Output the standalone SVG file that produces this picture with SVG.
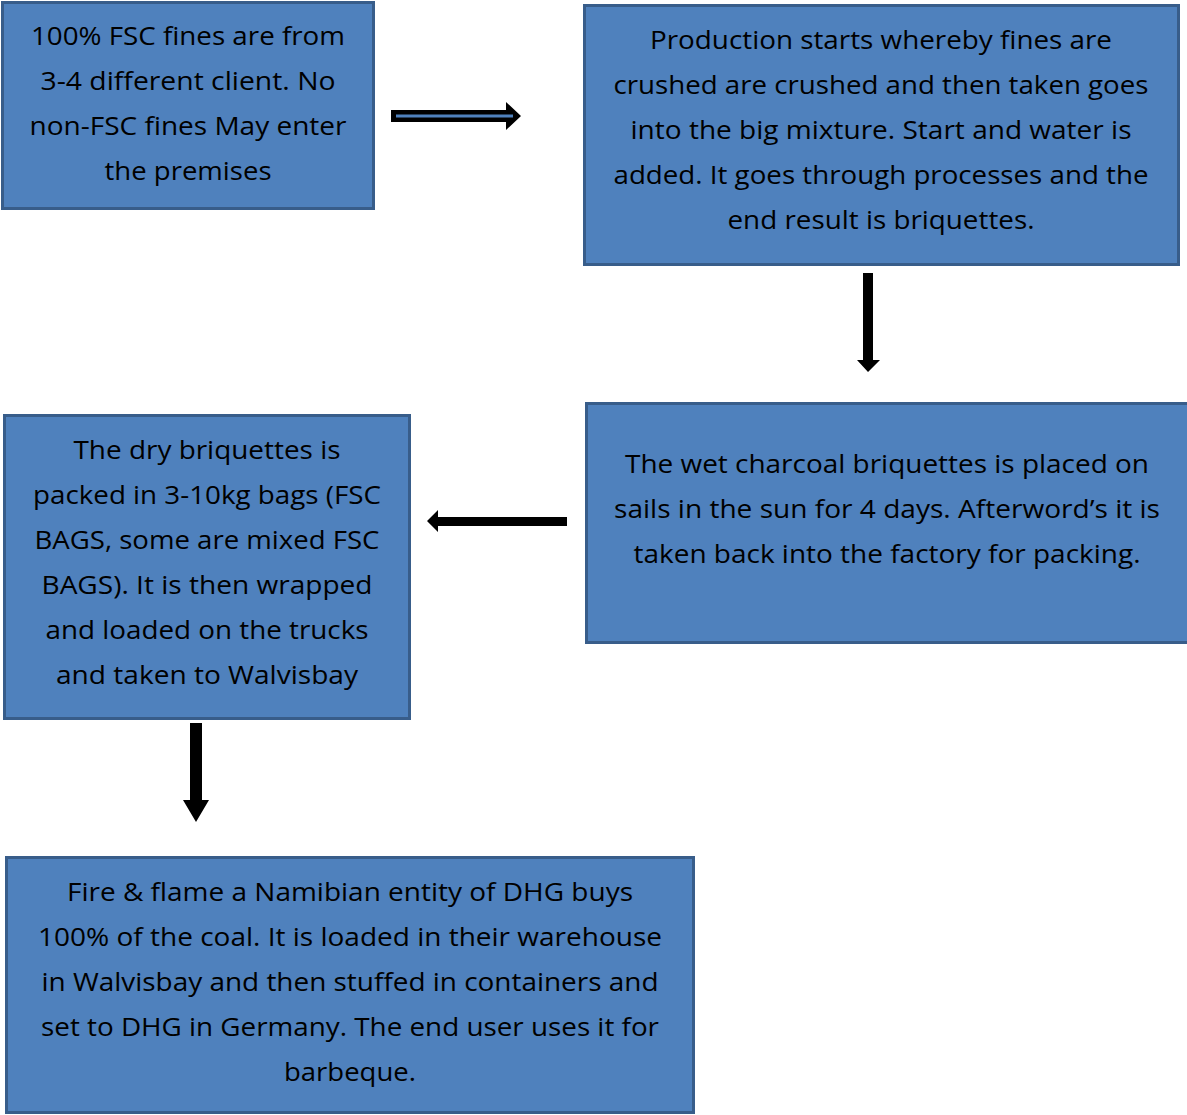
<svg xmlns="http://www.w3.org/2000/svg" width="1187" height="1115" viewBox="0 0 1187 1115">
<style>
.box{fill:#4f81bd;stroke:#385d8a;stroke-width:3}
.t{font-family:"Open Sans","Liberation Sans",sans-serif;font-size:26px;fill:#000;text-anchor:middle}
.arr{fill:#000}
</style>
<rect width="1187" height="1115" fill="#fff"/>
<g id="n1">
<rect class="box" x="2.5" y="2.5" width="371" height="206"/>
<text class="t" x="188" y="45" textLength="314" lengthAdjust="spacingAndGlyphs">100% FSC fines are from</text>
<text class="t" x="188" y="90" textLength="295" lengthAdjust="spacingAndGlyphs">3-4 different client. No</text>
<text class="t" x="188" y="135" textLength="317" lengthAdjust="spacingAndGlyphs">non-FSC fines May enter</text>
<text class="t" x="188" y="180" textLength="167" lengthAdjust="spacingAndGlyphs">the premises</text>
</g>
<g id="n2">
<rect class="box" x="584.5" y="5.5" width="594" height="259"/>
<text class="t" x="881" y="49" textLength="462" lengthAdjust="spacingAndGlyphs">Production starts whereby fines are</text>
<text class="t" x="881" y="94" textLength="535" lengthAdjust="spacingAndGlyphs">crushed are crushed and then taken goes</text>
<text class="t" x="881" y="139" textLength="501" lengthAdjust="spacingAndGlyphs">into the big mixture. Start and water is</text>
<text class="t" x="881" y="184" textLength="535" lengthAdjust="spacingAndGlyphs">added. It goes through processes and the</text>
<text class="t" x="881" y="229" textLength="307" lengthAdjust="spacingAndGlyphs">end result is briquettes.</text>
</g>
<g id="n3">
<rect class="box" x="586.5" y="403.5" width="603" height="239"/>
<text class="t" x="887" y="473" textLength="524" lengthAdjust="spacingAndGlyphs">The wet charcoal briquettes is placed on</text>
<text class="t" x="887" y="518" textLength="546" lengthAdjust="spacingAndGlyphs">sails in the sun for 4 days. Afterword’s it is</text>
<text class="t" x="887" y="563" textLength="507" lengthAdjust="spacingAndGlyphs">taken back into the factory for packing.</text>
</g>
<g id="n4">
<rect class="box" x="4.5" y="415.5" width="405" height="303"/>
<text class="t" x="207" y="459" textLength="267" lengthAdjust="spacingAndGlyphs">The dry briquettes is</text>
<text class="t" x="207" y="504" textLength="348" lengthAdjust="spacingAndGlyphs">packed in 3-10kg bags (FSC</text>
<text class="t" x="207" y="549" textLength="345" lengthAdjust="spacingAndGlyphs">BAGS, some are mixed FSC</text>
<text class="t" x="207" y="594" textLength="331" lengthAdjust="spacingAndGlyphs">BAGS). It is then wrapped</text>
<text class="t" x="207" y="639" textLength="323" lengthAdjust="spacingAndGlyphs">and loaded on the trucks</text>
<text class="t" x="207" y="684" textLength="302" lengthAdjust="spacingAndGlyphs">and taken to Walvisbay</text>
</g>
<g id="n5">
<rect class="box" x="6.5" y="857.5" width="687" height="255"/>
<text class="t" x="350" y="901" textLength="566" lengthAdjust="spacingAndGlyphs">Fire &amp; flame a Namibian entity of DHG buys</text>
<text class="t" x="350" y="946" textLength="624" lengthAdjust="spacingAndGlyphs">100% of the coal. It is loaded in their warehouse</text>
<text class="t" x="350" y="991" textLength="617" lengthAdjust="spacingAndGlyphs">in Walvisbay and then stuffed in containers and</text>
<text class="t" x="350" y="1036" textLength="618" lengthAdjust="spacingAndGlyphs">set to DHG in Germany. The end user uses it for</text>
<text class="t" x="350" y="1081" textLength="132" lengthAdjust="spacingAndGlyphs">barbeque.</text>
</g>
<g id="connectors">
<polygon class="arr" points="391,110 506,110 506,102 521,116 506,130 506,122 391,122"/>
<line x1="396" y1="116" x2="513" y2="116" stroke="#4f81bd" stroke-width="3"/>
<polygon class="arr" points="863,273 873,273 873,360 880,360 868,372 857,360 863,360"/>
<polygon class="arr" points="567,517 567,526 438,526 438,532 427,521 438,510 438,517"/>
<polygon class="arr" points="190,723 202,723 202,800 209,800 196,822 183,800 190,800"/>
</g>
</svg>
